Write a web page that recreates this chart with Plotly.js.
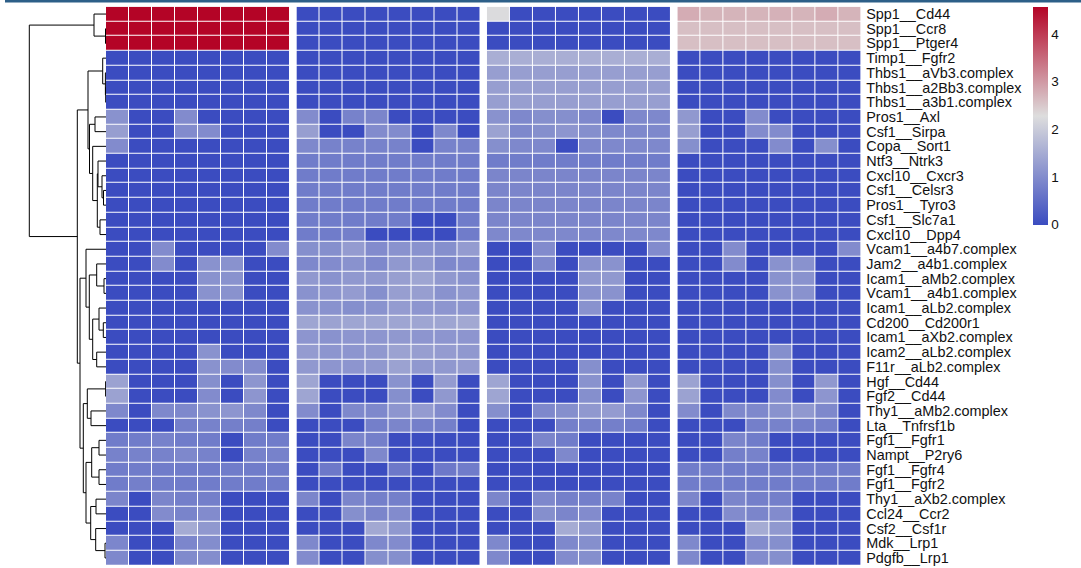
<!DOCTYPE html>
<html>
<head>
<meta charset="utf-8">
<script src="https://cdn.plot.ly/plotly-3.0.1.min.js"></script>
<style>
  html, body { margin: 0; padding: 0; background: #ffffff; }
  #chart { width: 1081px; height: 568px; }
</style>
</head>
<body>
<div id="chart"></div>
<script>
// Ligand–receptor pairs (rows, top to bottom in clustered order)
const pairs = [
  "Spp1__Cd44", "Spp1__Ccr8", "Spp1__Ptger4", "Timp1__Fgfr2",
  "Thbs1__aVb3.complex", "Thbs1__a2Bb3.complex", "Thbs1__a3b1.complex",
  "Pros1__Axl", "Csf1__Sirpa", "Copa__Sort1", "Ntf3__Ntrk3",
  "Cxcl10__Cxcr3", "Csf1__Celsr3", "Pros1__Tyro3", "Csf1__Slc7a1",
  "Cxcl10__Dpp4", "Vcam1__a4b7.complex", "Jam2__a4b1.complex",
  "Icam1__aMb2.complex", "Vcam1__a4b1.complex", "Icam1__aLb2.complex",
  "Cd200__Cd200r1", "Icam1__aXb2.complex", "Icam2__aLb2.complex",
  "F11r__aLb2.complex", "Hgf__Cd44", "Fgf2__Cd44", "Thy1__aMb2.complex",
  "Lta__Tnfrsf1b", "Fgf1__Fgfr1", "Nampt__P2ry6", "Fgf1__Fgfr4",
  "Fgf1__Fgfr2", "Thy1__aXb2.complex", "Ccl24__Ccr2", "Csf2__Csf1r",
  "Mdk__Lrp1", "Pdgfb__Lrp1"
];

// Interaction scores, one array per column group (38 rows x 8 columns)
const panel1 = [
  [4.57,4.57,4.57,4.57,4.57,4.57,4.57,4.57],
  [4.57,4.57,4.57,4.57,4.57,4.57,4.57,4.57],
  [4.57,4.57,4.57,4.57,4.57,4.57,4.57,4.57],
  [0,0,0,0,0,0,0,0],
  [0,0,0,0,0,0,0,0],
  [0,0,0,0,0,0,0,0],
  [0,0,0,0,0,0,0,0],
  [1.1,0,0,1.0,0,0,0,0],
  [1.3,0,0,1.0,1.0,0,0,0],
  [1.0,0,0,0,0,0,0,0],
  [0,0,0,0,0,0,0,0],
  [0,0,0,0,0,0,0,0],
  [0,0,0,0,0,0,0,0],
  [0,0,0,0,0,0,0,0],
  [0,0,0,0,0,0,0,0],
  [0,0,0,0,0,0,0,0],
  [0,0,1.0,0,0,0,0,1.0],
  [0,0,1.0,0,1.1,1.1,0,0],
  [0,0,0,0,1.1,1.1,0,0],
  [0,0,0,0,1.1,1.1,0,0],
  [0,0,0,0,0,0,0,0],
  [0,0,0,0,0,0,0,0],
  [0,0,0,0,0,0,0,0],
  [0,0,0,0,1.1,0,0,0],
  [0,0,0,0,1.1,1.0,1.0,0],
  [1.35,0,0,0,1.05,0,1.15,0],
  [1.35,0,0,0,1.0,0,1.15,0],
  [0.95,0,0.95,0.95,1.1,1.15,0.95,0],
  [0,0,0,0.8,0.85,0.8,0.8,0],
  [0.75,0.75,0.85,0.75,0.75,0,0.75,0.75],
  [0.85,0.85,0.85,0.95,0.85,0,0.85,0.85],
  [0.75,0.75,0.75,0.75,0.75,0.75,0.75,0.75],
  [0.75,0.8,0.75,0.75,0.75,0.75,0.75,0.75],
  [0.9,0,0.9,0.8,0.8,0,0,0],
  [0,0,1.0,0.88,1.0,0,0,0],
  [0,0,0,1.5,1.2,0,0,0],
  [0.92,0,0,0.92,1.02,0,0,0],
  [0.95,0,0,0.97,1.03,0,0,0]
];

const panel2 = [
  [0,0,0,0,0,0,0,0],
  [0,0,0,0,0,0,0,0],
  [0,0,0,0,0,0,0,0],
  [0,0,0,0,0,0,0,0],
  [0,0,0,0,0,0,0,0],
  [0,0,0,0,0,0,0,0],
  [0,0,0,0,0,0,0,0],
  [1.0,0,0.85,0.9,0,0,0,0],
  [1.3,0,0,1.0,1.0,0,0.95,0],
  [0.95,0.85,0.85,0.85,0.85,0,0.85,0.85],
  [0.75,0.75,0.75,0.75,0.75,0.75,0.75,0.75],
  [0.75,0.75,0.75,0.75,0.75,0.75,0.75,0.75],
  [0.75,0.75,0.75,0.75,0.75,0.75,0.75,0.75],
  [0.75,0.75,0.75,0.75,0.75,0.75,0.75,0.75],
  [0.75,0.75,0.75,0.75,0.75,0,0,0.75],
  [0.75,0.75,0.8,0,0,0,0,0.75],
  [1.05,1.05,1.25,1.0,1.1,1.1,1.05,1.25],
  [0.95,1.0,1.1,0.95,1.2,1.2,0.95,1.0],
  [1.2,1.1,1.2,1.2,1.3,1.4,1.2,1.1],
  [1.1,1.15,1.25,1.05,1.3,1.3,1.1,1.2],
  [1.1,1.1,1.05,1.1,1.25,1.15,1.15,1.15],
  [1.4,1.35,1.4,1.4,1.4,1.4,1.4,1.45],
  [1.15,1.1,1.15,1.15,1.2,1.15,1.15,1.15],
  [1.25,1.15,1.15,1.2,1.35,1.3,1.25,1.2],
  [1.2,1.15,1.15,1.2,1.35,1.2,1.2,1.25],
  [1.4,0,0,0,1.1,0,1.25,0],
  [1.4,0,0,0,1.05,0,1.2,0],
  [1.0,0,0.95,0.95,1.15,1.25,1.0,0],
  [0,0,0,0.8,0.9,0.8,0.8,0],
  [0,0,0.9,0.8,0,0,0,0],
  [0,0,0,0.95,0,0,0,0],
  [0,0.7,0,0,0.7,0,0.7,0.75],
  [0,0,0,0,0,0,0,0],
  [0.9,0,0.9,0.8,0.8,0,0,0],
  [0,0,1.05,0.9,1.0,0,0,0],
  [0,0,0,1.45,1.2,0,0,0],
  [0.95,0,0,0.95,1.0,0,0,0],
  [1.0,0,0,1.05,1.05,0,0,0]
];

const panel3 = [
  [2.25,0,0,0,0,0,0,0],
  [0,0,0,0,0,0,0,0],
  [0,0,0,0,0,0,0,0],
  [1.55,1.55,1.55,1.55,1.55,1.55,1.55,1.55],
  [1.3,1.3,1.3,1.3,1.3,1.3,1.3,1.3],
  [1.3,1.3,1.3,1.3,1.3,1.3,1.3,1.3],
  [1.3,1.3,1.3,1.3,1.3,1.3,1.3,1.3],
  [1.1,0.95,1.05,1.05,0.95,0,0.95,0.95],
  [1.35,0.95,1.05,1.15,1.05,0.95,0.95,0.95],
  [1.05,0.95,0.95,0,0.95,0.95,0.95,0.95],
  [0.75,0.75,0.75,0.75,0.75,0.75,0.75,0.75],
  [0.9,0.9,0.9,0.9,0.9,0.9,0.9,0.9],
  [0.9,0.9,0.9,0.9,0.9,0.9,0.9,0.9],
  [0.9,0.9,0.9,0.9,0.9,0.9,0.9,0.9],
  [0.9,0.9,0.9,0.9,0.9,0.9,0.9,0.9],
  [0.95,0.95,0.95,0.95,0.95,0.95,0.95,0.95],
  [0,0,1.0,0,0,0,0,1.0],
  [0,0,0.95,0,1.1,1.1,0,0],
  [0,0,0,0,1.2,1.2,0,0],
  [0,0,0,0,1.1,1.1,0,0],
  [0,0,0,0,1.1,0,0,0],
  [0,0,0,0,0,0,0,0],
  [0,0,0,0,0,0,0,0],
  [0,0,0,0,0,0,0,0],
  [0,0,0,0,1.05,0,0,0],
  [1.4,0,0,0,1.1,0,1.2,0],
  [1.4,0,0,0,1.05,0,1.15,0],
  [1.05,0,0.95,1.05,1.2,1.25,0.95,0],
  [0,0,0,0.8,0.85,0.8,0.75,0],
  [0,0,0.9,0.75,0,0,0,0],
  [0,0,0,0.95,0,0,0,0],
  [0,0,0,0,0,0,0,0],
  [0,0,0,0,0,0,0,0],
  [0.9,0,0.95,0.8,0.8,0.85,0,0],
  [0,0,1.05,0.9,1.0,0,0,0],
  [0,0,0,1.5,1.2,0,0,0],
  [0.95,0,0,0.95,1.05,0,0,0],
  [0.95,0,0,1.0,1.05,0,0,0]
];

const panel4 = [
  [2.8,2.72,2.72,2.72,2.75,2.72,2.8,2.72],
  [2.6,2.6,2.6,2.6,2.6,2.6,2.6,2.6],
  [2.6,2.6,2.6,2.6,2.6,2.6,2.6,2.6],
  [0,0,0,0,0,0,0,0],
  [0,0,0,0,0,0,0,0],
  [0,0,0,0,0,0,0,0],
  [0,0,0,0,0,0,0,0],
  [1.2,0,0,1.0,0,0,0,0],
  [1.3,0,0,1.0,1.0,0,0,0],
  [1.05,0,0,0,1.0,0,1.05,0],
  [0,0,0,0,0,0,0,0],
  [0,0,0,0,0,0,0,0],
  [0,0,0,0,0,0,0,0],
  [0,0,0,0,0,0,0,0],
  [0,0,0,0,0,0,0,0],
  [0,0,0,0,0,0,0,0],
  [0,0,1.0,0,0,0,0,1.0],
  [0,0,1.0,0,1.1,1.1,0,0],
  [0,0,0,0,1.1,1.1,0,0],
  [0,0,0,0,1.1,1.1,0,0],
  [0,0,0,0,0,0,0,0],
  [0,0,0,0,0,0,0,0],
  [0,0,0,0,0,0,0,0],
  [0,0,0,0,1.05,0,0,0],
  [0,0,0,0,1.05,0,0,0],
  [1.35,0,0,0,1.05,0,1.2,0],
  [1.35,0,0,0,1.0,0,1.15,0],
  [1.0,0,0.95,0.95,1.1,1.2,0.95,0],
  [0,0,0,0.8,0.85,0.8,0.8,0],
  [0,0,0.9,0.75,0,0,0,0],
  [0,0,0.8,0.85,0,0,0,0],
  [0.75,0.75,0.75,0.75,0.75,0.75,0.75,0.75],
  [0.75,0.75,0.75,0.75,0.75,0.75,0.75,0.75],
  [0.9,0,0.9,0.8,0.8,0,0,0],
  [0,0,1.0,0.9,1.0,0,0,0],
  [0,0,0,1.5,1.2,0,0,0],
  [0.95,0,0,1.0,1.05,0,0,0],
  [0.95,0,0,1.0,1.05,0,0,0]
];

// Row clustering, hclust-style merge table: negative = leaf (1-based row),
// positive = earlier merge step; third value = merge height
const rowMerges = [
  [-2, -3, 0.05], [-1, 1, 1.2], [-6, -7, 0.03], [-5, 3, 0.06],
  [-4, 4, 0.33], [-8, -9, 1.1], [-13, -14, 0.25], [-12, 7, 0.4],
  [-11, 8, 0.8], [-15, -16, 0.6], [9, 10, 0.87], [-10, 11, 1.33],
  [6, 12, 1.65], [5, 13, 1.8], [-19, -20, 0.2], [-18, 15, 0.93],
  [-22, -23, 0.27], [-21, 17, 0.7], [-24, -25, 0.93], [18, 19, 1.33],
  [16, 20, 1.67], [-17, 21, 2.0], [-26, -27, 0.04], [-28, -29, 1.5],
  [23, 24, 1.87], [-30, -31, 0.7], [-32, -33, 0.7], [26, 27, 1.43],
  [-34, -35, 1.0], [-37, -38, 0.1], [-36, 30, 1.03], [29, 31, 1.53],
  [28, 32, 2.0], [25, 33, 2.27], [22, 34, 2.6], [14, 35, 2.87],
  [2, 36, 7.67]
];

const scoreMax = 4.57;
const colorbarTicks = [0, 1, 2, 3, 4];
const coolwarm = [[0, '#3B4CC0'], [0.5, '#DDDDDD'], [1, '#B40426']];

// ---- layout geometry (pixels) ----
const W = 1081, H = 568;
const gridTop = 6.7, gridBottom = 565.3;
const panelLeft = [106, 296.45, 486.9, 677.35];
const panelWidth = 183.9;
const px = v => v / W;
const py = v => 1 - v / H;

const cols = [0, 1, 2, 3, 4, 5, 6, 7];
const rowIdx = pairs.map((_, i) => i);
const labelFont = 'Liberation Sans, Arial, sans-serif';

const panels = [panel1, panel2, panel3, panel4];
const traces = panels.map((z, k) => ({
  type: 'heatmap',
  z: z, x: cols, y: rowIdx,
  xaxis: k === 0 ? 'x' : 'x' + (k + 1),
  yaxis: 'y',
  zmin: 0, zmax: scoreMax,
  colorscale: coolwarm,
  xgap: 1, ygap: 1,
  hoverinfo: 'skip',
  showscale: k === 0,
  colorbar: {
    thickness: 15, thicknessmode: 'pixels',
    len: 218, lenmode: 'pixels',
    x: px(1033), xanchor: 'left', xpad: 0,
    y: py(gridTop), yanchor: 'top', ypad: 0,
    outlinewidth: 0,
    tickvals: colorbarTicks, ticks: '', ticklen: 0,
    tickfont: { family: labelFont, size: 13.5, color: '#111' }
  }
}));

// Dendrogram segments built from the merge table
function dendroLines(merges) {
  const pos = [], ht = [], xs = [], ys = [];
  const node = r => r < 0 ? { y: -r - 1, h: 0 } : { y: pos[r - 1], h: ht[r - 1] };
  merges.forEach(([a, b, h], i) => {
    const A = node(a), B = node(b);
    xs.push(A.h, h, h, B.h, null);
    ys.push(A.y, A.y, B.y, B.y, null);
    pos[i] = (A.y + B.y) / 2;
    ht[i] = h;
  });
  return { xs, ys };
}
const d = dendroLines(rowMerges);
traces.push({
  type: 'scatter', mode: 'lines',
  x: d.xs, y: d.ys,
  xaxis: 'x5', yaxis: 'y',
  line: { color: '#000', width: 1 },
  hoverinfo: 'skip', showlegend: false
});

const hiddenX = (k) => ({
  domain: [px(panelLeft[k]), px(panelLeft[k] + panelWidth)],
  range: [-0.5, 7.5],
  showticklabels: false, showgrid: false, zeroline: false, showline: false, ticks: '',
  anchor: 'y', fixedrange: true
});

const layout = {
  width: W, height: H,
  margin: { l: 0, r: 0, t: 0, b: 0 },
  paper_bgcolor: '#ffffff', plot_bgcolor: '#ffffff',
  showlegend: false,
  font: { family: labelFont, color: '#111' },
  xaxis: hiddenX(0), xaxis2: hiddenX(1), xaxis3: hiddenX(2), xaxis4: hiddenX(3),
  xaxis5: {
    domain: [0, px(106)], range: [10.6, 0],
    showticklabels: false, showgrid: false, zeroline: false, showline: false, ticks: '',
    anchor: 'y', fixedrange: true
  },
  yaxis: {
    domain: [py(gridBottom), py(gridTop)],
    range: [pairs.length - 0.5, -0.5],
    anchor: 'x4', side: 'right',
    tickvals: rowIdx, ticktext: pairs,
    tickfont: { family: labelFont, size: 14.4, color: '#111' },
    ticks: '', ticklen: 0, ticklabelstandoff: 4,
    showgrid: false, zeroline: false, showline: false, fixedrange: true
  },
  shapes: [{
    type: 'line', xref: 'paper', yref: 'paper',
    x0: px(5), x1: 1, y0: py(1), y1: py(1),
    line: { color: '#2d5f88', width: 3 }
  }]
};

Plotly.newPlot('chart', traces, layout, { displayModeBar: false, staticPlot: true });
</script>
</body>
</html>
